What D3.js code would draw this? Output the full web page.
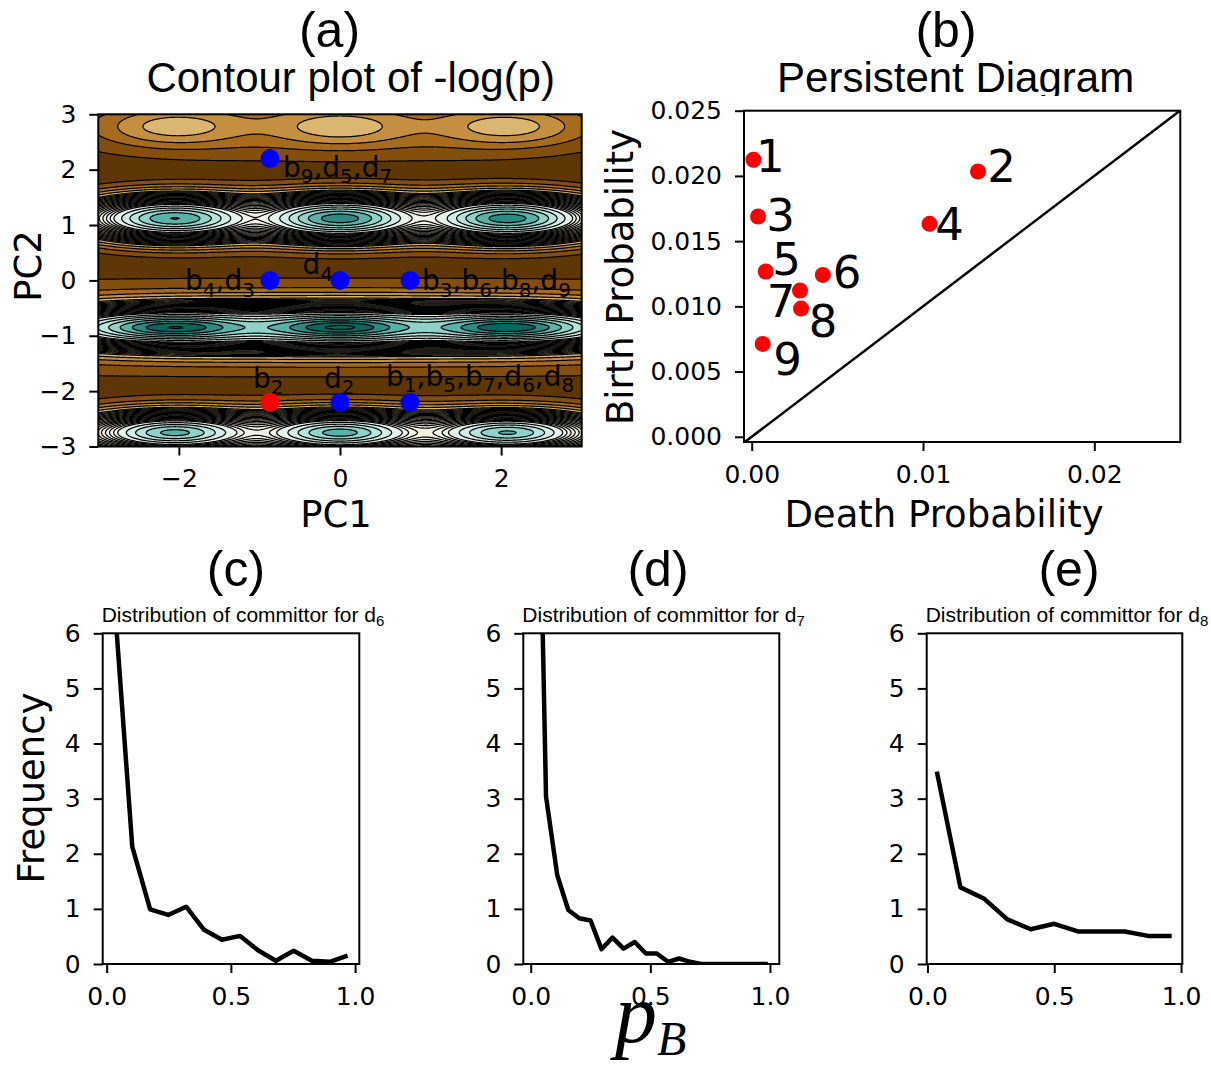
<!DOCTYPE html>
<html>
<head>
<meta charset="utf-8">
<script src="https://cdn.jsdelivr.net/npm/d3@7"></script>
<style>
  body { margin: 0; background: #fff; }
  svg { display: block; }
</style>
</head>
<body>
<svg id="fig" width="1211" height="1068"></svg>
<script>
// ---------------- data ----------------
// (a) log-density landscape: wells on a 3 x 4 lattice in (PC1, PC2)
const wellX = [-2.05, 0.0, 2.08];
const rowY = [2.78, 1.12, -0.85, -2.75];
const logFloor = -6;                         // background density, log scale
// row 0: amplitudes in units of the background density; rows 1-3: absolute
const wellAmp = [
  [2.0, 2.0, 2.0],
  [0.55, 0.65, 0.65],
  [1.0, 1.05, 0.98],
  [0.45, 0.47, 0.42]
];
const coreKappa = [null, 2.5, 1.06, 1.8];    // null: Gaussian well
const coreSX = [0.5, 0.6, 0.43, 0.5];
const coreSY = [0.2, 0.2, 0.09, 0.15];
// broad shoulders around rows (units of the background density)
const tailAmp = [0.8, 0.0, 1.1, 0.0];
const tailSX = [1.2, null, null, null];      // null: shoulder runs along the whole row
const tailSY = [0.4, 0.4, 0.55, 0.4];

// critical points marked on the landscape
const pointPC1 = [-0.87, -0.87, 0.0, 0.87, -0.87, 0.0, 0.87];
const pointPC2 = [2.2, 0.0, 0.0, 0.0, -2.2, -2.2, -2.2];
const pointColor = ["#0000ff", "#0000ff", "#0000ff", "#0000ff", "#ff0000", "#0000ff", "#0000ff"];
const pointLabel = ["b_9,d_5,d_7", "b_4,d_3", "d_4", "b_3,b_6,b_8,d_9", "b_2", "d_2", "b_1,b_5,b_7,d_6,d_8"];

// (b) persistence pairs
const pairName = ["1", "2", "3", "4", "5", "6", "7", "8", "9"];
const deathProb = [0.0001, 0.01321, 0.00037, 0.01038, 0.00082, 0.00415, 0.00282, 0.00288, 0.00064];
const birthProb = [0.02124, 0.02034, 0.01689, 0.01633, 0.01267, 0.01241, 0.01121, 0.00983, 0.00712];

// (c)-(e) committor distributions
const pbD6 = [0.031, 0.103, 0.175, 0.248, 0.320, 0.392, 0.464, 0.537, 0.609, 0.681, 0.753, 0.826, 0.898, 0.970];
const freqD6 = [6.6, 2.13, 0.99, 0.89, 1.04, 0.62, 0.44, 0.51, 0.25, 0.06, 0.24, 0.06, 0.04, 0.15];
const pbD7 = [0.018, 0.064, 0.111, 0.157, 0.203, 0.250, 0.296, 0.342, 0.388, 0.435, 0.481, 0.527,
              0.574, 0.620, 0.666, 0.712, 0.759, 0.805, 0.851, 0.898, 0.944, 0.991];
const freqD7 = [12.9, 3.04, 1.61, 0.98, 0.83, 0.79, 0.27, 0.48, 0.28, 0.40, 0.19, 0.19,
                0.04, 0.10, 0.04, 0, 0, 0, 0, 0, 0, 0];
const pbD8 = [0.037, 0.130, 0.222, 0.315, 0.407, 0.500, 0.593, 0.685, 0.778, 0.870, 0.963];
const freqD8 = [3.49, 1.39, 1.19, 0.81, 0.63, 0.73, 0.59, 0.59, 0.59, 0.51, 0.51];

// tick values
const ticksPC1 = [-2, 0, 2];
const ticksPC2 = [-3, -2, -1, 0, 1, 2, 3];
const ticksBirth = [0, 0.005, 0.01, 0.015, 0.02, 0.025];
const ticksDeath = [0, 0.01, 0.02];
const ticksFreq = [0, 1, 2, 3, 4, 5, 6];
const ticksPB = [0, 0.5, 1];

// ---------------- helpers ----------------
const svg = d3.select("#fig");
const defs = svg.append("defs");
const SANS = "'Liberation Sans', Arial, sans-serif";
const DEJAVU = "'DejaVu Sans', sans-serif";

// text with "_x" subscripts
function rich(g, str, x, y, size, anchor, family) {
  const t = g.append("text").attr("x", x).attr("y", y)
    .attr("font-size", size).attr("font-family", family || DEJAVU)
    .attr("text-anchor", anchor || "start").attr("fill", "#000");
  const sub = Math.round(size * 0.7), shift = size * 0.22;
  let down = false;
  for (let i = 0; i < str.length; i++) {
    if (str[i] === "_") {
      t.append("tspan").attr("font-size", sub).attr("dy", shift).text(str[i + 1]);
      down = true; i++;
    } else {
      let j = i;
      while (j < str.length && str[j] !== "_") j++;
      const s = t.append("tspan").text(str.slice(i, j));
      if (down) { s.attr("dy", -shift); down = false; }
      i = j - 1;
    }
  }
  return t;
}

function plain(g, str, x, y, size, family, anchor) {
  return g.append("text").attr("x", x).attr("y", y).attr("font-size", size)
    .attr("font-family", family).attr("text-anchor", anchor || "middle").attr("fill", "#000").text(str);
}

function styleAxis(sel) {
  sel.select(".domain").remove();
  sel.selectAll(".tick line").attr("stroke", "#000").attr("stroke-width", 2);
  sel.selectAll(".tick text").attr("font-family", DEJAVU).attr("font-size", 25).attr("fill", "#000");
}

function frame(g, x0, x1, y0, y1) {
  g.append("rect").attr("x", x0).attr("y", y0).attr("width", x1 - x0).attr("height", y1 - y0)
    .attr("fill", "none").attr("stroke", "#000").attr("stroke-width", 2);
}

function axes(g, xs, ys, xt, yt, xf, yf) {
  const [y1] = ys.range();
  const [x0] = xs.range();
  g.append("g").attr("transform", `translate(0,${y1})`)
    .call(d3.axisBottom(xs).tickValues(xt).tickFormat(xf).tickSize(9).tickPadding(14))
    .call(styleAxis);
  g.append("g").attr("transform", `translate(${x0},0)`)
    .call(d3.axisLeft(ys).tickValues(yt).tickFormat(yf).tickSize(9).tickPadding(13))
    .call(styleAxis);
}

// ---------------- (a) contour landscape ----------------
const xA = d3.scaleLinear().domain([-3, 3]).range([98.3, 581.7]);
const yA = d3.scaleLinear().domain([-3, 3]).range([446.5, 114.3]);
const gA = svg.append("g");

const nx = 480, ny = 340;
const eps = Math.exp(logFloor);
const field = new Float64Array(nx * ny);
for (let j = 0; j < ny; j++) {
  const y = 3 - (j + 0.5) * 6 / ny;
  for (let i = 0; i < nx; i++) {
    const x = -3 + (i + 0.5) * 6 / nx;
    let p = eps;
    for (let r = 0; r < rowY.length; r++) {
      const dy = y - rowY[r];
      const ty = dy * dy / (2 * tailSY[r] * tailSY[r]);
      if (tailSX[r] === null && tailAmp[r] > 0) p += eps * tailAmp[r] * Math.exp(-ty);
      for (let w = 0; w < wellX.length; w++) {
        const dx = x - wellX[w];
        const r2 = (dx / coreSX[r]) ** 2 + (dy / coreSY[r]) ** 2;
        if (coreKappa[r] === null) {
          p += eps * wellAmp[r][w] * Math.exp(-r2 / 2);
        } else {
          p += wellAmp[r][w] * Math.exp(-coreKappa[r] * (Math.sqrt(1 + r2) - 1));
        }
        if (tailSX[r] !== null) {
          p += eps * tailAmp[r] * Math.exp(-ty - dx * dx / (2 * tailSX[r] * tailSX[r]));
        }
      }
    }
    field[j * nx + i] = Math.log(p);
  }
}

const levelStep = 0.3;
const levels = d3.range(logFloor + levelStep, 0.1, levelStep);
// iso-lines: every fill level, plus half steps along the steep walls
const lineLevels = levels.concat(levels.filter(v => v > -4.4 && v < -1.9).map(v => v - levelStep / 2))
  .sort((a, b) => a - b);
// colour position along BrBG for a given log density
const colorPos = d3.scaleLinear()
  .domain([-5.85, -4.5, -2.1, -1.2, -0.15])
  .range([0.02, 0.32, 0.5, 0.64, 0.9]).clamp(true);
const bandColor = v => d3.interpolateBrBG(colorPos(v));

const bands = d3.contours().size([nx, ny]).thresholds(levels)(field);
const isolines = d3.contours().size([nx, ny]).thresholds(lineLevels)(field);
const gridPath = d3.geoPath(d3.geoTransform({
  point: function (px, py) { this.stream.point(xA(-3 + px * 6 / nx), yA(3 - py * 6 / ny)); }
}));

defs.append("clipPath").attr("id", "clipA")
  .append("rect").attr("x", xA(-3)).attr("y", yA(3)).attr("width", xA(3) - xA(-3)).attr("height", yA(-3) - yA(3));

const land = gA.append("g").attr("clip-path", "url(#clipA)");
land.append("rect").attr("x", xA(-3)).attr("y", yA(3)).attr("width", xA(3) - xA(-3)).attr("height", yA(-3) - yA(3))
  .attr("fill", bandColor(logFloor + levelStep / 2));
land.selectAll("path.band").data(bands).join("path").attr("class", "band")
  .attr("d", gridPath).attr("fill", d => bandColor(d.value + levelStep / 2)).attr("stroke", "none");
land.selectAll("path.iso").data(isolines).join("path").attr("class", "iso")
  .attr("d", gridPath).attr("fill", "none").attr("stroke", "#000").attr("stroke-width", 1.2);

frame(gA, xA(-3), xA(3), yA(3), yA(-3));
axes(gA, xA, yA, ticksPC1, ticksPC2, d3.format("d"), d3.format("d"));

// critical points and their labels
const labelOffset = [[13, 18, "start"], [-15, 10, "end"], [-7, -6, "end"], [12, 10, "start"],
                     [-17, -14, "start"], [-16, -14, "start"], [-24, -16, "start"]];
pointPC1.forEach((px, i) => {
  gA.append("circle").attr("cx", xA(px)).attr("cy", yA(pointPC2[i])).attr("r", 9.5).attr("fill", pointColor[i]);
  const [ox, oy, anc] = labelOffset[i];
  rich(gA, pointLabel[i], xA(px) + ox, yA(pointPC2[i]) + oy, 28, anc, DEJAVU);
});

plain(gA, "(a)", 329.5, 47, 50, SANS);
plain(gA, "Contour plot of -log(p)", 350.7, 92, 42, SANS);
plain(gA, "PC1", 336, 527, 37, DEJAVU);
plain(gA, "PC2", 0, 0, 37, DEJAVU).attr("transform", "translate(41,266) rotate(-90)");

// ---------------- (b) persistence diagram ----------------
const xB = d3.scaleLinear().domain([-0.00045, 0.02502]).range([744, 1180.3]);
const yB = d3.scaleLinear().domain([-0.0004, 0.025]).range([442, 110.7]);
const gB = svg.append("g");
defs.append("clipPath").attr("id", "clipB")
  .append("rect").attr("x", 744).attr("y", 110.7).attr("width", 436.3).attr("height", 331.3);
defs.append("clipPath").attr("id", "clipTitleB")
  .append("rect").attr("x", 700).attr("y", 0).attr("width", 511).attr("height", 96);

gB.append("line").attr("clip-path", "url(#clipB)")
  .attr("x1", xB(-0.0005)).attr("y1", yB(-0.0005)).attr("x2", xB(0.0255)).attr("y2", yB(0.0255))
  .attr("stroke", "#000").attr("stroke-width", 2.5);
frame(gB, 744, 1180.3, 110.7, 442);
axes(gB, xB, yB, ticksDeath, ticksBirth, d3.format(".2f"), d3.format(".3f"));

const pairOffset = [[17, 12], [23.5, 11], [22.4, 15], [20, 16], [20.8, 3], [24.2, 13], [-19, 26], [22, 28], [24.8, 31]];
deathProb.forEach((d, i) => {
  gB.append("circle").attr("cx", xB(d)).attr("cy", yB(birthProb[i])).attr("r", 8).attr("fill", "#ff0000");
  plain(gB, pairName[i], xB(d) + pairOffset[i][0], yB(birthProb[i]) + pairOffset[i][1], 45, DEJAVU);
});

plain(gB, "(b)", 946, 47, 50, SANS);
plain(gB, "Persistent Diagram", 955.6, 92, 42, SANS).attr("clip-path", "url(#clipTitleB)");
plain(gB, "Death Probability", 944, 527, 37, DEJAVU);
plain(gB, "Birth Probability", 0, 0, 37, DEJAVU).attr("transform", "translate(633,277) rotate(-90)");

// ---------------- (c)-(e) committor distributions ----------------
const panels = [
  { tag: "(c)", tagX: 236, title: "Distribution of committor for d_6", x0: 102.7, x1: 359.3, dom: [-0.016, 1.017], pb: pbD6, f: freqD6 },
  { tag: "(d)", tagX: 658, title: "Distribution of committor for d_7", x0: 523.3, x1: 779.3, dom: [-0.031, 1.039], pb: pbD7, f: freqD7 },
  { tag: "(e)", tagX: 1069, title: "Distribution of committor for d_8", x0: 926.7, x1: 1182.3, dom: [-0.003, 1.005], pb: pbD8, f: freqD8 }
];
panels.forEach((P, k) => {
  const g = svg.append("g");
  const xs = d3.scaleLinear().domain(P.dom).range([P.x0, P.x1]);
  const ys = d3.scaleLinear().domain([0, 6]).range([964, 633.3]);
  const cid = "clipP" + k;
  defs.append("clipPath").attr("id", cid)
    .append("rect").attr("x", P.x0).attr("y", 633.3).attr("width", P.x1 - P.x0).attr("height", 964 - 633.3);
  g.append("path").attr("clip-path", `url(#${cid})`)
    .datum(P.pb.map((v, i) => [v, P.f[i]]))
    .attr("d", d3.line().x(d => xs(d[0])).y(d => ys(d[1])))
    .attr("fill", "none").attr("stroke", "#000").attr("stroke-width", 4.5)
    .attr("stroke-linejoin", "round");
  frame(g, P.x0, P.x1, 633.3, 964);
  axes(g, xs, ys, ticksPB, ticksFreq, d3.format(".1f"), d3.format("d"));
  plain(g, P.tag, P.tagX, 586, 50, SANS);
  rich(g, P.title, P.x0 - 1, 621.7, 21, "start", SANS);
});

plain(svg, "Frequency", 0, 0, 37, DEJAVU).attr("transform", "translate(44,788) rotate(-90)");
const pB = svg.append("text").attr("x", 615).attr("y", 1042).attr("font-family", "'Liberation Serif', serif")
  .attr("font-style", "italic").attr("fill", "#000");
pB.append("tspan").attr("font-size", 84).text("p");
pB.append("tspan").attr("font-size", 48).attr("dy", 13).text("B");
</script>
</body>
</html>
